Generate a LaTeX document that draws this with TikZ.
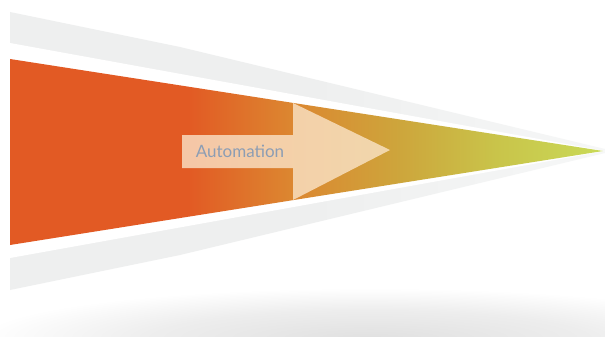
\documentclass[tikz,border=0pt]{standalone}
\usepackage{fontspec}
\setmainfont{Lato}
\definecolor{cOr}{HTML}{E25A24}
\definecolor{cA}{HTML}{DC8630}
\definecolor{cB}{HTML}{CDA63C}
\definecolor{cC}{HTML}{C9C44A}
\definecolor{cD}{HTML}{C9DA57}
\definecolor{bandgray}{HTML}{EEEFEF}
\definecolor{bandlight}{HTML}{F6F7F7}
\definecolor{arrowfill}{HTML}{FBE6CC}
\definecolor{labelcol}{HTML}{8C9DB4}
\pgfdeclarehorizontalshading{funnelsh}{100bp}{color(0bp)=(cOr); color(25bp)=(cOr); color(40bp)=(cOr); color(48.6bp)=(cA); color(58bp)=(cB); color(66bp)=(cC); color(75bp)=(cD); color(100bp)=(cD)}
\pgfdeclarehorizontalshading{bandsh}{100bp}{color(0bp)=(bandgray); color(25bp)=(bandgray); color(50bp)=(bandgray); color(75bp)=(bandlight); color(100bp)=(bandlight)}
\pgfdeclareradialshading{shadowsh}{\pgfpoint{0bp}{0bp}}{color(0bp)=(black!12); color(14bp)=(black!7); color(25bp)=(white); color(50bp)=(white)}
\begin{document}
\begin{tikzpicture}[x=1pt,y=-1pt,
  band/.style={shading=bandsh},
  gap/.style={fill=white},
  funnel/.style={shading=funnelsh},
  arrowshape/.style={fill=arrowfill, fill opacity=0.78},
  label/.style={text=labelcol, font=\fontsize{17}{20}\selectfont, inner sep=0pt}]
\useasboundingbox[fill=white] (0,0) rectangle (605,337);
% soft shadow
\shade[shading=shadowsh] (370,338) ellipse (390 and 50);
% outer gray band
\shade[band] (10,12) -- (180,47) -- (605,149) -- (605,153) -- (180,255) -- (10,290) -- cycle;
% white gap
\path[gap] (10,43) -- (605,151) -- (10,258) -- cycle;
% funnel
\shade[funnel] (10,59) -- (603,151) -- (10,245) -- cycle;
% arrow
\path[arrowshape] (182,135) -- (293,135) -- (293,103) -- (390,150) -- (293,200) -- (293,168) -- (182,168) -- cycle;
\node[label] (auto) at (240,151) {Automation};
\end{tikzpicture}
\end{document}
